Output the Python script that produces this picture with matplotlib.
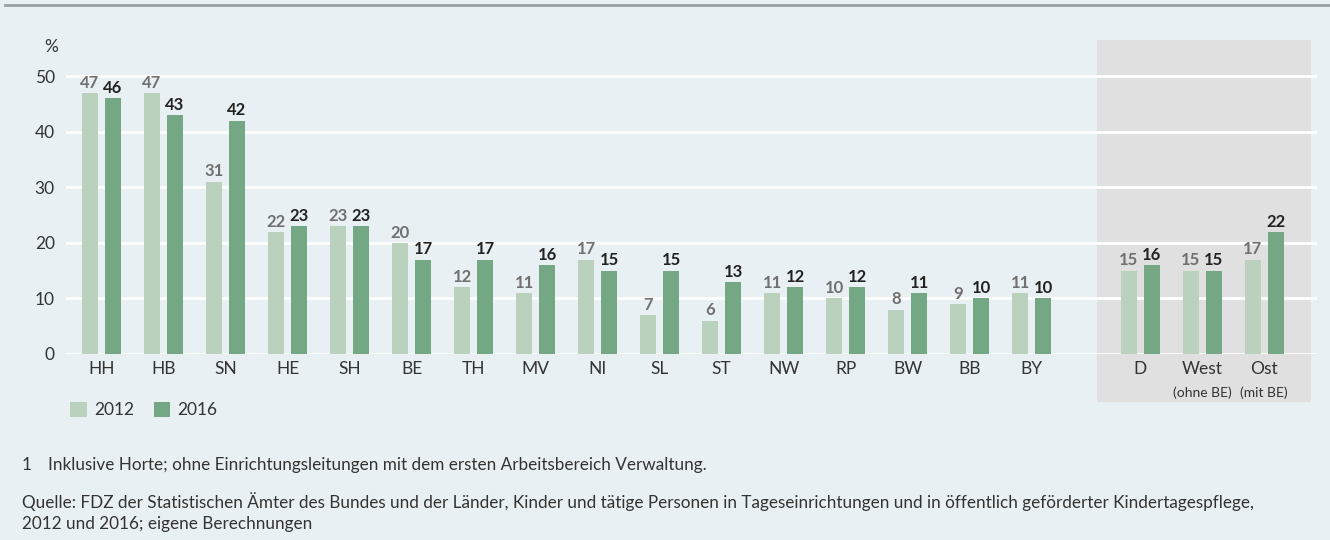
import matplotlib

matplotlib.use("Agg")
import matplotlib.pyplot as plt  # noqa: E402
import numpy as np  # noqa: E402
from matplotlib.patches import Rectangle  # noqa: E402

plt.rcParams["font.family"] = ["Lato", "DejaVu Sans"]

LAENDER = ["HH", "HB", "SN", "HE", "SH", "BE", "TH", "MV", "NI", "SL",
           "ST", "NW", "RP", "BW", "BB", "BY"]
REGIONS = ["D", "West", "Ost"]
REGION_SUB = ["", "(ohne BE)", "(mit BE)"]
V2012 = [47, 47, 31, 22, 23, 20, 12, 11, 17, 7, 6, 11, 10, 8, 9, 11, 15, 15, 17]
V2016 = [46, 43, 42, 23, 23, 17, 17, 16, 15, 15, 13, 12, 12, 11, 10, 10, 16, 15, 22]
YTICKS = [0, 10, 20, 30, 40, 50]

BG = "#e8f0f3"
PANEL = "#e0e0e0"
C12 = "#b9d1bd"
C16 = "#74a884"
TXT = "#333333"

W, H = 1330, 540
fig = plt.figure(figsize=(W / 100, H / 100), dpi=100, facecolor=BG)

# axes box in pixels: x 66..1317, y 40..354
ax = fig.add_axes([66 / W, 1 - 354 / H, (1317 - 66) / W, (354 - 40) / H])
ax.set_facecolor("none")

x = np.concatenate([np.arange(len(LAENDER)), 16.75 + np.arange(len(REGIONS))])
ax.set_xlim(-0.573, 19.6)
ax.set_ylim(0, 56.5)

# grey panel for D / West / Ost
ax.add_patch(Rectangle((16.06, -8.6), 19.51 - 16.06, 56.5 + 8.6,
                       facecolor=PANEL, edgecolor="none", zorder=0, clip_on=False))

for t in YTICKS:
    ax.axhline(t, color="white", lw=2, zorder=1)

bw = 0.26
off = 0.185
ax.bar(x - off, V2012, bw, color=C12, zorder=2, label="2012")
ax.bar(x + off, V2016, bw, color=C16, zorder=2, label="2016")

for xi, a, b in zip(x, V2012, V2016):
    ax.text(xi - off, a + 0.4, str(a), ha="center", va="bottom", fontsize=12,
            color="#707070", fontweight="bold")
    ax.text(xi + off, b + 0.4, str(b), ha="center", va="bottom", fontsize=12,
            color="#222222", fontweight="bold")

for s in ax.spines.values():
    s.set_visible(False)
ax.set_yticks(YTICKS)
ax.set_yticklabels([str(t) for t in YTICKS], fontsize=12.5, color=TXT)
ax.tick_params(axis="y", length=0, pad=8)
ax.set_xticks(x)
ax.set_xticklabels(LAENDER + REGIONS, fontsize=12.5, color=TXT)
ax.tick_params(axis="x", length=0, pad=5)
fig.text(58 / W, 1 - 47 / H, "%", ha="right", va="center", fontsize=12.5, color=TXT)

for xi, sub in zip(x[len(LAENDER):], REGION_SUB):
    if sub:
        ax.text(xi, -6.9, sub, ha="center", va="center", fontsize=10,
                color=TXT, clip_on=False)

ax.legend(loc="center left", bbox_to_anchor=(-0.0035, -0.178), ncol=2,
          frameon=False, fontsize=12.5, handlelength=0.95, handleheight=1.0,
          handletextpad=0.4, columnspacing=1.15, labelcolor=TXT, borderpad=0)

# top rule
fig.add_artist(plt.Line2D([5 / W, 1], [1 - 5 / H, 1 - 5 / H], color="#9aa0a3",
                          lw=2, transform=fig.transFigure))

fs = 12.3
fig.text(22 / W, 1 - 465 / H, "1", fontsize=fs, color=TXT, va="center")
fig.text(48 / W, 1 - 465 / H,
         "Inklusive Horte; ohne Einrichtungsleitungen mit dem ersten Arbeitsbereich Verwaltung.",
         fontsize=fs, color=TXT, va="center")
fig.text(22 / W, 1 - 502 / H,
         "Quelle: FDZ der Statistischen Ämter des Bundes und der Länder, Kinder und tätige "
         "Personen in Tageseinrichtungen und in öffentlich geförderter Kindertagespflege,",
         fontsize=fs, color=TXT, va="center")
fig.text(22 / W, 1 - 524 / H, "2012 und 2016; eigene Berechnungen",
         fontsize=fs, color=TXT, va="center")

fig.savefig("out.png", dpi=100, facecolor=BG)
